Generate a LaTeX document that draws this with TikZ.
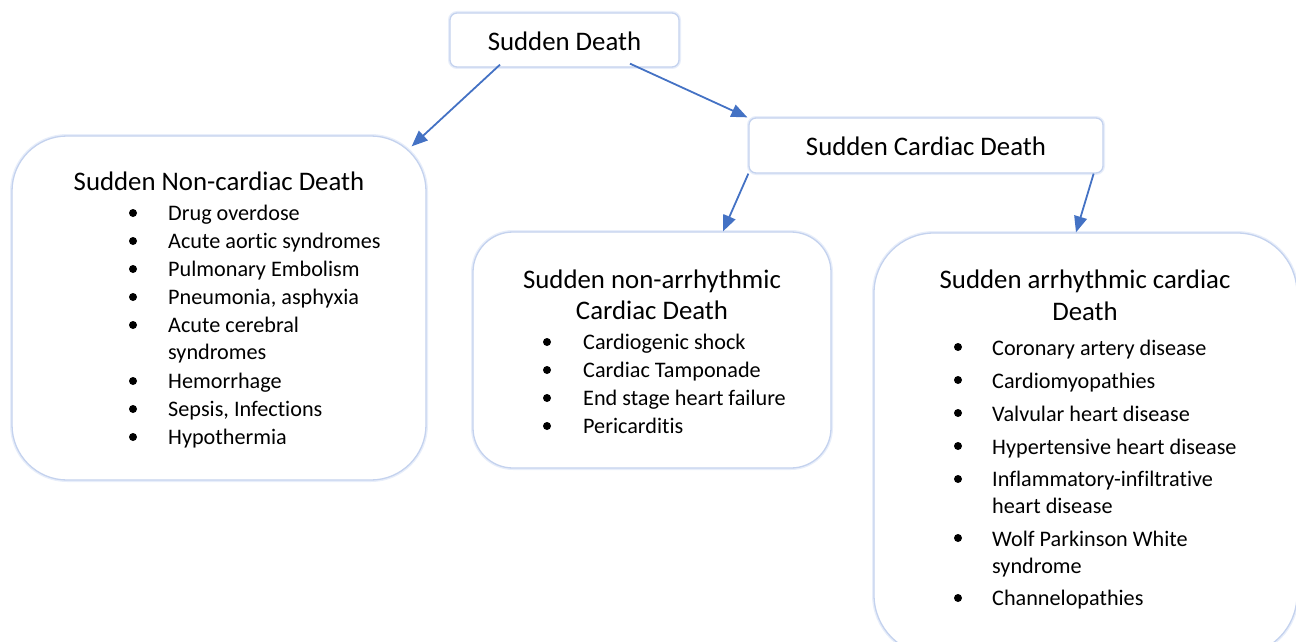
\documentclass[tikz,border=0pt]{standalone}
\usepackage{fontspec}
\setmainfont{Carlito}[Ligatures=NoCommon]
\usetikzlibrary{arrows.meta}
\definecolor{boxline}{RGB}{196,210,238}
\definecolor{boxglow}{RGB}{232,238,250}
\definecolor{arrowblue}{RGB}{68,114,196}
\begin{document}
\begin{tikzpicture}[x=1pt,y=-1pt,
  box/.style={rectangle, draw=boxline, line width=1.3pt, fill=white, inner sep=0pt,
    preaction={draw=boxglow, line width=4pt}},
  head/.style={font=\fontsize{26.8}{31}\selectfont, anchor=base, inner sep=0pt},
  item/.style={font=\fontsize{22.2}{27}\selectfont, anchor=base west, inner sep=0pt},
  bul/.style={circle, fill=black, inner sep=0pt, minimum size=8pt},
  arr/.style={draw=arrowblue, line width=1.8pt, -{Triangle[length=16pt,width=13pt]}}]
\useasboundingbox (0,0) rectangle (1296,642);

% boxes
\node[box, rounded corners=7pt, minimum width=229pt, minimum height=54pt] (sd) at (564.5,40) {};
\node[box, rounded corners=7pt, minimum width=354pt, minimum height=55pt] (scd) at (926,145.5) {};
\node[box, rounded corners=55pt, minimum width=414pt, minimum height=344pt] (ncd) at (219,308) {};
\node[box, rounded corners=40pt, minimum width=358pt, minimum height=236pt] (nad) at (652,350) {};
\node[box, rounded corners=60pt, minimum width=423pt, minimum height=422pt] (ad) at (1085.5,444) {};

% titles
\node[head] (sdt) at (564.5,50.5) {Sudden Death};
\node[head] (scdt) at (926,155) {Sudden Cardiac Death};

% left box
\node[head] (ncdt) at (219,190) {Sudden Non-cardiac Death};
\node[item] (l1) at (168,220) {Drug overdose};
\node[item] (l2) at (168,248) {Acute aortic syndromes};
\node[item] (l3) at (168,276) {Pulmonary Embolism};
\node[item] (l4) at (168,304) {Pneumonia, asphyxia};
\node[item] (l5) at (168,332) {Acute cerebral};
\node[item] (l5b) at (168,359) {syndromes};
\node[item] (l6) at (168,388) {Hemorrhage};
\node[item] (l7) at (168,416) {Sepsis, Infections};
\node[item] (l8) at (168,444) {Hypothermia};
\node[bul] (lb1) at (133,213) {};
\node[bul] (lb2) at (133,241) {};
\node[bul] (lb3) at (133,269) {};
\node[bul] (lb4) at (133,297) {};
\node[bul] (lb5) at (133,325) {};
\node[bul] (lb6) at (133,381) {};
\node[bul] (lb7) at (133,409) {};
\node[bul] (lb8) at (133,437) {};

% middle box
\node[head] (nadt1) at (652,288) {Sudden non-arrhythmic};
\node[head] (nadt2) at (652,319) {Cardiac Death};
\node[item] (m1) at (583,349) {Cardiogenic shock};
\node[item] (m2) at (583,377) {Cardiac Tamponade};
\node[item] (m3) at (583,405) {End stage heart failure};
\node[item] (m4) at (583,433) {Pericarditis};
\node[bul] (mb1) at (547,342) {};
\node[bul] (mb2) at (547,370) {};
\node[bul] (mb3) at (547,398) {};
\node[bul] (mb4) at (547,426) {};

% right box
\node[head] (adt1) at (1085,288) {Sudden arrhythmic cardiac};
\node[head] (adt2) at (1085,320) {Death};
\node[item] (r1) at (992,355) {Coronary artery disease};
\node[item] (r2) at (992,388) {Cardiomyopathies};
\node[item] (r3) at (992,421) {Valvular heart disease};
\node[item] (r4) at (992,454) {Hypertensive heart disease};
\node[item] (r5) at (992,486) {Inflammatory-infiltrative};
\node[item] (r5b) at (992,513) {heart disease};
\node[item] (r6) at (992,546) {Wolf Parkinson White};
\node[item] (r6b) at (992,573) {syndrome};
\node[item] (r7) at (992,605) {Channelopathies};
\node[bul] (rb1) at (958,347) {};
\node[bul] (rb2) at (958,380) {};
\node[bul] (rb3) at (958,413) {};
\node[bul] (rb4) at (958,446) {};
\node[bul] (rb5) at (958,479) {};
\node[bul] (rb6) at (958,538) {};
\node[bul] (rb7) at (958,598) {};

% arrows
\draw[arr] ([xshift=-64.5pt,yshift=3pt]sd.south) -- ([xshift=-15pt,yshift=-11pt]ncd.north east);
\draw[arr] ([xshift=65.5pt,yshift=4pt]sd.south) -- ([xshift=-1pt]scd.north west);
\draw[arr] (scd.south west) -- ([xshift=71pt]nad.north);
\draw[arr] ([xshift=-10pt]scd.south east) -- ([xshift=-9.5pt]ad.north);
\end{tikzpicture}
\end{document}
